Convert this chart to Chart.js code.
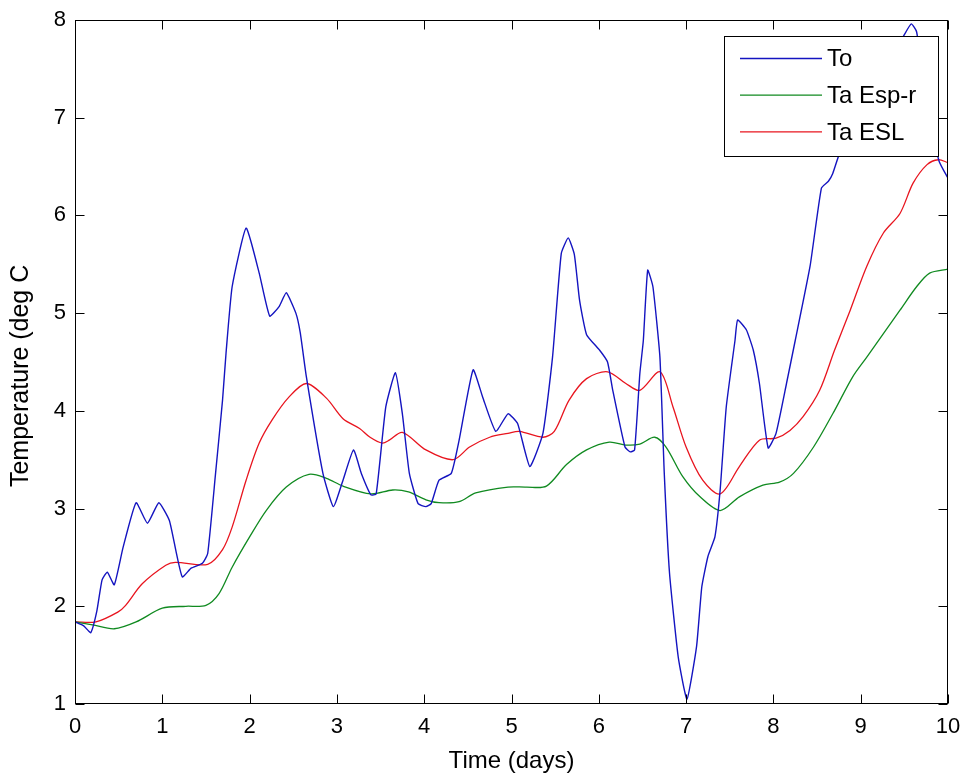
<!DOCTYPE html>
<html>
<head>
<meta charset="utf-8">
<script src="https://cdn.jsdelivr.net/npm/chart.js@4.4.1/dist/chart.umd.min.js"></script>
<style>
html,body{margin:0;padding:0;background:#fff;}
#wrap{width:963px;height:779px;}
</style>
</head>
<body>
<div id="wrap"><canvas id="c" width="963" height="779"></canvas></div>
<script>
// ---- Data ----
const toTime = [0,0.10,0.18,0.25,0.31,0.37,0.45,0.55,0.70,0.83,0.96,1.08,1.16,1.23,1.33,1.46,1.52,1.61,1.69,1.73,1.80,1.96,2.11,2.23,2.34,2.42,2.53,2.58,2.65,2.84,2.96,3.07,3.19,3.28,3.39,3.45,3.56,3.67,3.75,3.83,3.93,4.02,4.08,4.17,4.31,4.40,4.56,4.67,4.82,4.96,5.07,5.21,5.36,5.47,5.57,5.65,5.72,5.78,5.86,6.01,6.10,6.16,6.30,6.36,6.41,6.47,6.51,6.56,6.62,6.70,6.75,6.81,6.91,7.01,7.12,7.18,7.25,7.33,7.39,7.46,7.56,7.59,7.69,7.77,7.84,7.94,8.03,8.15,8.25,8.42,8.55,8.63,8.68,8.76,8.95,9.15,9.35,9.50,9.58,9.64,9.72,9.82,9.90,10.0];
const toValues = [1.84,1.80,1.73,1.95,2.27,2.35,2.22,2.60,3.06,2.85,3.06,2.88,2.55,2.30,2.39,2.44,2.54,3.36,4.11,4.59,5.27,5.87,5.41,4.97,5.07,5.21,5.00,4.80,4.35,3.36,3.02,3.29,3.60,3.36,3.14,3.15,4.04,4.39,3.97,3.36,3.05,3.02,3.05,3.29,3.36,3.70,4.42,4.14,3.79,3.97,3.87,3.43,3.77,4.55,5.61,5.77,5.60,5.13,4.78,4.62,4.50,4.21,3.63,3.58,3.60,4.38,4.72,5.44,5.27,4.55,3.36,2.34,1.48,1.05,1.59,2.20,2.51,2.71,3.19,4.04,4.72,4.93,4.83,4.62,4.28,3.62,3.77,4.28,4.72,5.48,6.28,6.35,6.43,6.64,6.95,7.28,7.60,7.85,7.96,7.88,7.40,6.85,6.55,6.38];

const espTime = [0,0.20,0.45,0.70,1.00,1.27,1.50,1.65,1.80,2.00,2.19,2.42,2.68,2.88,3.07,3.39,3.64,3.82,4.02,4.17,4.40,4.59,4.96,5.17,5.40,5.63,5.86,6.12,6.31,6.47,6.64,6.77,6.96,7.16,7.39,7.61,7.88,8.07,8.23,8.46,8.68,8.91,9.07,9.26,9.45,9.64,9.79,10.0];
const espValues = [1.84,1.81,1.77,1.84,1.98,2.00,2.01,2.13,2.40,2.71,2.98,3.22,3.35,3.31,3.23,3.15,3.19,3.17,3.09,3.06,3.07,3.16,3.22,3.22,3.23,3.45,3.60,3.68,3.65,3.66,3.73,3.63,3.33,3.12,2.98,3.12,3.24,3.27,3.36,3.63,3.97,4.35,4.55,4.79,5.03,5.27,5.41,5.45];

const eslTime = [0,0.24,0.49,0.58,0.77,1.04,1.15,1.52,1.69,1.80,1.96,2.11,2.26,2.45,2.65,2.88,3.07,3.26,3.38,3.52,3.60,3.75,4.02,4.33,4.52,4.75,4.96,5.09,5.36,5.49,5.66,5.86,6.10,6.31,6.47,6.70,6.85,7.00,7.19,7.39,7.61,7.84,8.03,8.19,8.34,8.53,8.70,8.88,9.07,9.26,9.45,9.60,9.76,9.89,10.0];
const eslValues = [1.84,1.84,1.94,2.01,2.23,2.42,2.45,2.43,2.58,2.81,3.29,3.67,3.91,4.14,4.28,4.13,3.92,3.82,3.73,3.67,3.70,3.78,3.60,3.50,3.63,3.73,3.77,3.79,3.73,3.79,4.11,4.33,4.40,4.28,4.21,4.40,4.04,3.63,3.29,3.15,3.43,3.70,3.72,3.80,3.94,4.21,4.62,5.03,5.48,5.82,6.02,6.33,6.52,6.57,6.54];

const seriesLabels = ['To','Ta Esp-r','Ta ESL'];
const xTickValues = [0,1,2,3,4,5,6,7,8,9,10];
const yTickValues = [1,2,3,4,5,6,7,8];

const FONT = "'Liberation Sans', Arial, sans-serif";

function pts(xs, ys){ return xs.map((x,i)=>({x:x, y:ys[i]})); }

const frameAndLegend = {
  id:'frameAndLegend',
  afterDatasetsDraw(chart){
    const ctx = chart.ctx, a = chart.chartArea;
    const xs = chart.scales.x, ys = chart.scales.y;
    ctx.save();
    ctx.strokeStyle = '#000';
    ctx.lineWidth = 1;
    const L = Math.round(a.left)+0.5, R = Math.round(a.right)-0.5, T = Math.round(a.top)+0.5, B = Math.round(a.bottom)-0.5;
    ctx.strokeRect(L, T, R-L, B-T);
    const tl = 9;
    ctx.beginPath();
    xTickValues.forEach(v=>{
      const px = Math.round(xs.getPixelForValue(v))+0.5;
      ctx.moveTo(px,B); ctx.lineTo(px,B-tl);
      ctx.moveTo(px,T); ctx.lineTo(px,T+tl);
    });
    yTickValues.forEach(v=>{
      const py = Math.round(ys.getPixelForValue(v))+0.5;
      ctx.moveTo(L,py); ctx.lineTo(L+tl,py);
      ctx.moveTo(R,py); ctx.lineTo(R-tl,py);
    });
    ctx.stroke();

    // legend box (inside the plot, top right)
    const bx = 724.5, by = 36.5, bw = 214, bh = 120;
    ctx.fillStyle = '#fff';
    ctx.fillRect(bx, by, bw, bh);
    ctx.strokeRect(bx, by, bw, bh);
    ctx.font = '24px ' + FONT;
    ctx.textBaseline = 'middle';
    ctx.textAlign = 'left';
    chart.data.datasets.forEach((ds,i)=>{
      const ry = 58.5 + i*36.7;
      ctx.strokeStyle = ds.borderColor;
      ctx.lineWidth = 1.3;
      ctx.beginPath(); ctx.moveTo(740, ry); ctx.lineTo(822, ry); ctx.stroke();
      ctx.fillStyle = '#000';
      ctx.fillText(ds.label, 827, ry+1);
    });
    ctx.restore();
  }
};

new Chart(document.getElementById('c'), {
  type:'line',
  data:{
    datasets:[
      {label:seriesLabels[0], data:pts(toTime,toValues), borderColor:'#1414c0', borderWidth:1.4, pointRadius:0, tension:0.15, fill:false},
      {label:seriesLabels[1], data:pts(espTime,espValues), borderColor:'#108a20', borderWidth:1.3, pointRadius:0, tension:0.3, fill:false},
      {label:seriesLabels[2], data:pts(eslTime,eslValues), borderColor:'#e8141e', borderWidth:1.3, pointRadius:0, tension:0.3, fill:false}
    ]
  },
  options:{
    responsive:false,
    animation:false,
    layout:{padding:{top:20, right:15, left:0, bottom:0}},
    plugins:{legend:{display:false}, tooltip:{enabled:false}},
    scales:{
      x:{
        type:'linear', min:0, max:10,
        afterBuildTicks(s){ s.ticks = xTickValues.map(v=>({value:v})); },
        afterFit(s){ s.height = 75; s.paddingLeft = 0; s.paddingRight = 0; },
        ticks:{font:{family:FONT,size:22}, color:'#000', padding:10, maxRotation:0, autoSkip:false},
        grid:{display:false, drawTicks:false},
        border:{display:false},
        title:{display:true, text:'Time (days)', color:'#000', font:{family:FONT,size:24}, padding:{top:0,bottom:3}}
      },
      y:{
        type:'linear', min:1, max:8,
        afterBuildTicks(s){ s.ticks = yTickValues.map(v=>({value:v})); },
        afterFit(s){ s.width = 75; s.paddingTop = 0; s.paddingBottom = 0; },
        ticks:{font:{family:FONT,size:22}, color:'#000', padding:9, autoSkip:false},
        grid:{display:false, drawTicks:false},
        border:{display:false},
        title:{display:true, text:'Temperature (deg C    ', color:'#000', font:{family:FONT,size:25}, padding:{top:6,bottom:0}}
      }
    }
  },
  plugins:[frameAndLegend]
});
</script>
</body>
</html>
